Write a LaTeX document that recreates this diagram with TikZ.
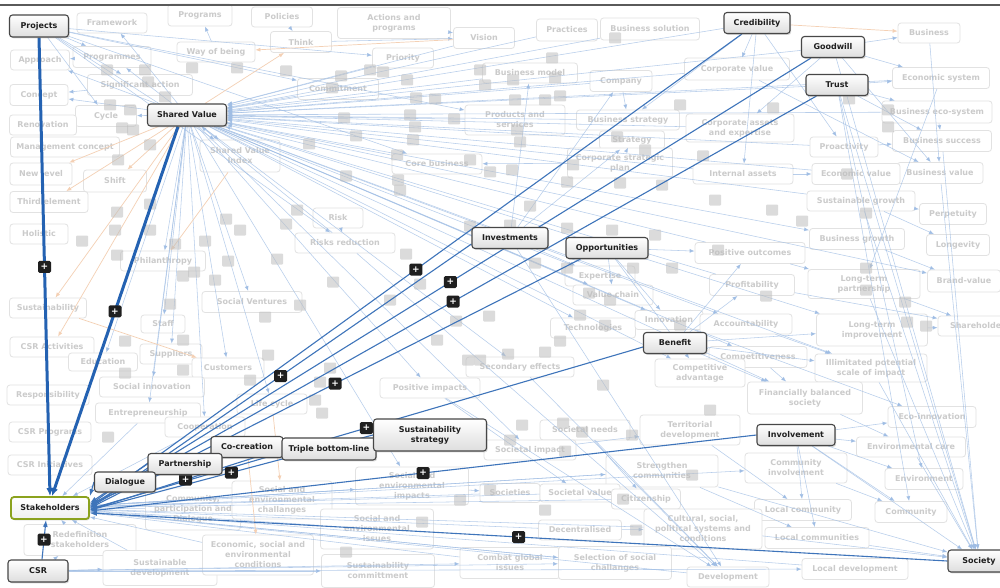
\documentclass[tikz,border=0pt]{standalone}
\usepackage{fontspec}
\setmainfont{DejaVu Sans}
\usetikzlibrary{arrows.meta,shadows}

\pgfdeclarelayer{faintboxes}
\pgfdeclarelayer{faintlinks}
\pgfdeclarelayer{links}
\pgfsetlayers{faintboxes,faintlinks,links,main}

\definecolor{linkblue}{HTML}{3E74BA}
\definecolor{deepblue}{HTML}{2462B2}
\definecolor{paleblue}{HTML}{9FBDE4}
\definecolor{paleorange}{HTML}{F4D0B4}
\definecolor{fadetext}{HTML}{CBCBCB}
\definecolor{fadeedge}{HTML}{E2E2E2}
\definecolor{boxedge}{HTML}{474747}
\definecolor{keygreen}{HTML}{8BA21E}
\definecolor{framegray}{HTML}{5A5A5A}

\tikzset{
  keybox/.style={draw=boxedge, line width=1.1pt, rounded corners=3pt,
    top color=white, bottom color=black!13, text=black!88,
    font=\bfseries\fontsize{8}{10}\selectfont, align=center,
    inner sep=0pt, minimum height=21pt,
    drop shadow={shadow xshift=1.2pt, shadow yshift=-1.4pt, opacity=.3}},
  focusbox/.style={keybox, draw=keygreen, line width=1.8pt, bottom color=black!6},
  faintbox/.style={draw=fadeedge, line width=.8pt, rounded corners=3pt, fill=white,
    text=fadetext, font=\bfseries\fontsize{8}{10}\selectfont, align=center,
    inner sep=0pt, minimum height=20pt},
  faintkey/.style={fill=black!25, fill opacity=.55, rounded corners=1pt,
    minimum width=12pt, minimum height=11pt, inner sep=0pt},
  plusmark/.style={fill=black!88, rounded corners=1.5pt, text=white,
    font=\bfseries\fontsize{9}{9}\selectfont, minimum width=13pt,
    minimum height=12pt, inner sep=0pt},
  faintlink/.style={draw=paleblue, line width=.55pt, draw opacity=.75,
    -{Latex[length=5pt,width=4pt]}},
  faintorange/.style={draw=paleorange, line width=.7pt,
    -{Latex[length=5pt,width=4pt]}},
  fglink/.style={draw=linkblue, line width=1.1pt, -{Latex[length=7pt,width=5pt]}},
  heavylink/.style={draw=deepblue, line width=3pt, -{Latex[length=8pt,width=7pt]}},
}

\newcommand\faintnode[5]{\node[faintbox,minimum width=#3pt,minimum height=#4pt] (#1) at (#2) {#5};}

\begin{document}
\begin{tikzpicture}[x=1pt,y=-1pt]
\useasboundingbox (0,0) rectangle (1000,588);
\begin{pgfonlayer}{faintboxes}
  \fill[white] (0,0) rectangle (1000,588);
\end{pgfonlayer}

% ---------- highlighted concepts ----------
\node[keybox, minimum width=59pt, minimum height=22pt] (proj) at (39,26) {Projects};
\node[keybox, minimum width=79pt, minimum height=22pt] (sv) at (187,115) {Shared Value};
\node[keybox, minimum width=66pt] (cred) at (757,23) {Credibility};
\node[keybox, minimum width=63pt] (good) at (833,47) {Goodwill};
\node[keybox, minimum width=62pt] (trust) at (837,85) {Trust};
\node[keybox, minimum width=76pt] (invest) at (510,238) {Investments};
\node[keybox, minimum width=82pt] (opp) at (607,248) {Opportunities};
\node[keybox, minimum width=63pt] (ben) at (675,343) {Benefit};
\node[keybox, minimum width=78pt] (involve) at (796,435) {Involvement};
\node[keybox, minimum width=72pt] (cocr) at (247,447) {Co-creation};
\node[keybox, minimum width=94pt, minimum height=22pt] (tbl) at (329,449) {Triple bottom-line};
\node[keybox, minimum width=113pt, minimum height=32pt] (sstrat) at (430,435) {Sustainability\\strategy};
\node[keybox, minimum width=74pt] (part) at (185,464) {Partnership};
\node[keybox, minimum width=61pt, minimum height=20pt] (dia) at (125,482) {Dialogue};
\node[focusbox, minimum width=78pt, minimum height=22pt] (stk) at (50,508) {Stakeholders};
\node[keybox, minimum width=60pt, minimum height=22pt] (csr) at (38,571) {CSR};
\node[keybox, minimum width=62pt, minimum height=22pt] (soc) at (979,561) {Society};

% frame line along the top edge
\draw[framegray, line width=1.6pt] (0,5) -- (1000,5);

% ---------- faded concepts ----------
\begin{pgfonlayer}{faintboxes}
\faintnode{framework}{112,23}{70}{20}{Framework}
\faintnode{programs}{200,15}{64}{22}{Programs}
\faintnode{policies}{282,17}{61}{20}{Policies}
\faintnode{actions}{394,23}{113}{31}{Actions and\\programs}
\faintnode{think}{301,42}{61}{21}{Think}
\faintnode{wayofbeing}{216,52}{78}{20}{Way of being}
\faintnode{programmes}{112,57}{78}{21}{Programmes}
\faintnode{approach}{40,60}{59}{20}{Approach}
\faintnode{sigaction}{140,85}{105}{21}{Significant action}
\faintnode{concept}{39,95}{58}{21}{Concept}
\faintnode{cycle}{106,116}{61}{21}{Cycle}
\faintnode{renovation}{43,125}{67}{20}{Renovation}
\faintnode{mgmt}{65,147}{109}{20}{Management concept}
\faintnode{newlevel}{41,174}{62}{22}{New level}
\faintnode{shift}{115,181}{63}{22}{Shift}
\faintnode{svindex}{240,156}{80}{32}{Shared Value\\Index}
\faintnode{third}{49,202}{78}{21}{Third element}
\faintnode{holistic}{39,234}{58}{20}{Holistic}
\faintnode{philanthropy}{163,261}{85}{20}{Philanthropy}
\faintnode{socventures}{252,302}{100}{21}{Social Ventures}
\faintnode{sustfade}{48,308}{77}{20}{Sustainability}
\faintnode{staff}{163,324}{44}{18}{Staff}
\faintnode{csract}{52,347}{84}{20}{CSR Activities}
\faintnode{suppliers}{171,354}{62}{20}{Suppliers}
\faintnode{education}{103,362}{69}{18}{Education}
\faintnode{customers}{228,368}{72}{20}{Customers}
\faintnode{socinnov}{152,387}{105}{20}{Social innovation}
\faintnode{resp}{48,395}{82}{20}{Responsibility}
\faintnode{lifecycle}{272,404}{70}{20}{Life cycle}
\faintnode{entre}{148,413}{105}{20}{Entrepreneurship}
\faintnode{coop}{205,427}{80}{20}{Cooperation}
\faintnode{csrprog}{50,432}{82}{20}{CSR Programs}
\faintnode{csrinit}{50,465}{84}{20}{CSR Initiatives}
\faintnode{commpart}{193,509}{95}{42}{Community,\\participation and\\Dialogue}
\faintnode{redef}{80,540}{112}{31}{Redefinition\\stakeholders}
\faintnode{sustdev}{160,568}{114}{35}{Sustainable\\development}
\faintnode{esconditions}{258,555}{111}{40}{Economic, social and\\environmental\\conditions}
\faintnode{sechall}{282,500}{100}{38}{Social and\\environmental\\challanges}
\faintnode{seimpacts}{412,486}{113}{38}{Social and\\environmental\\impacts}
\faintnode{seissues}{377,529}{113}{40}{Social and\\environmental\\issues}
\faintnode{sustcommit}{378,571}{113}{33}{Sustainability\\committment}
\faintnode{priority}{403,58}{61}{20}{Priority}
\faintnode{commitment}{338,89}{81}{21}{Commitment}
\faintnode{vision}{484,38}{61}{21}{Vision}
\faintnode{practices}{567,30}{61}{22}{Practices}
\faintnode{bizsol}{650,29}{99}{22}{Business solution}
\faintnode{bizmodel}{530,73}{95}{20}{Business model}
\faintnode{company}{621,81}{62}{21}{Company}
\faintnode{products}{515,120}{100}{30}{Products and\\services}
\faintnode{bizstrat}{628,120}{103}{20}{Business strategy}
\faintnode{strategy}{632,140}{65}{18}{Strategy}
\faintnode{corpstrat}{620,163}{105}{30}{Corporate strategic\\plan}
\faintnode{corebiz}{437,164}{90}{20}{Core business}
\faintnode{risk}{338,218}{50}{20}{Risk}
\faintnode{riskred}{345,243}{100}{20}{Risks reduction}
\faintnode{corpvalue}{737,69}{105}{22}{Corporate value}
\faintnode{corpassets}{740,128}{108}{28}{Corporate assets\\and expertise}
\faintnode{intassets}{743,174}{100}{20}{Internal assets}
\faintnode{business}{929,33}{62}{20}{Business}
\faintnode{econsys}{941,78}{97}{21}{Economic system}
\faintnode{bizeco}{937,112}{110}{22}{Business eco-system}
\faintnode{bizsuccess}{942,141}{99}{21}{Business success}
\faintnode{bizvalue}{940,173}{86}{21}{Business value}
\faintnode{proactivity}{844,147}{68}{20}{Proactivity}
\faintnode{econvalue}{856,174}{88}{21}{Economic value}
\faintnode{sustgrowth}{861,201}{108}{20}{Sustainable growth}
\faintnode{perpetuity}{953,214}{67}{21}{Perpetuity}
\faintnode{bizgrowth}{857,239}{95}{21}{Business growth}
\faintnode{longevity}{958,245}{63}{21}{Longevity}
\faintnode{posout}{750,253}{110}{21}{Positive outcomes}
\faintnode{ltpartner}{864,284}{112}{29}{Long-term\\partnership}
\faintnode{brand}{964,281}{73}{22}{Brand-value}
\faintnode{profit}{752,285}{85}{21}{Profitability}
\faintnode{expertise}{600,276}{70}{20}{Expertise}
\faintnode{valuechain}{613,295}{80}{20}{Value chain}
\faintnode{technology}{593,328}{85}{20}{Technologies}
\faintnode{innovation}{669,320}{68}{19}{Innovation}
\faintnode{account}{746,324}{92}{20}{Accountability}
\faintnode{ltimprove}{872,330}{111}{32}{Long-term\\improvement}
\faintnode{shareholders}{980,326}{84}{20}{Shareholders}
\faintnode{compet}{758,357}{98}{21}{Competitiveness}
\faintnode{compadv}{700,373}{90}{28}{Competitive\\advantage}
\faintnode{illim}{871,368}{112}{28}{Illimitated potential\\scale of impact}
\faintnode{secondary}{520,367}{108}{20}{Secondary effects}
\faintnode{posimpacts}{430,388}{100}{20}{Positive impacts}
\faintnode{finbal}{805,398}{115}{32}{Financially balanced\\society}
\faintnode{ecoinnov}{932,417}{88}{21}{Eco-innovation}
\faintnode{territorial}{690,430}{100}{30}{Territorial\\development}
\faintnode{societalneeds}{585,430}{90}{20}{Societal needs}
\faintnode{societalimpact}{530,450}{92}{20}{Societal impact}
\faintnode{envcare}{911,447}{109}{20}{Environmental care}
\faintnode{strengthen}{662,471}{112}{32}{Strengthen\\communities}
\faintnode{commInv}{796,468}{102}{30}{Community\\involvement}
\faintnode{environment}{924,479}{78}{21}{Environment}
\faintnode{societies}{510,493}{60}{19}{Societies}
\faintnode{societalvalue}{580,493}{80}{18}{Societal value}
\faintnode{citizenship}{646,499}{69}{20}{Citizenship}
\faintnode{localcommunity}{803,510}{97}{21}{Local community}
\faintnode{community}{911,512}{72}{21}{Community}
\faintnode{decentral}{580,530}{83}{20}{Decentralised}
\faintnode{cultural}{703,529}{118}{40}{Cultural, social,\\political systems and\\conditions}
\faintnode{localcommunities}{817,538}{104}{21}{Local communities}
\faintnode{combat}{510,563}{100}{31}{Combat global\\issues}
\faintnode{selection}{615,563}{113}{33}{Selection of social\\challanges}
\faintnode{localdev}{855,569}{106}{21}{Local development}
\faintnode{development}{728,577}{82}{20}{Development}
\end{pgfonlayer}

% ---------- faded links ----------
\begin{pgfonlayer}{faintlinks}
\foreach \a/\b in {vision/sv, company/sv, bizmodel/sv, products/sv, bizstrat/sv,
  corpvalue/sv, corpassets/sv, intassets/sv, proactivity/sv, econvalue/sv,
  sustgrowth/sv, posout/sv, profit/sv, riskred/sv, commitment/sv, priority/sv,
  corebiz/sv, practices/sv, bizsol/sv, strategy/sv, econsys/sv, bizeco/sv,
  cred/sv, good/sv, trust/sv,
  sv/approach, sv/concept, sv/cycle, sv/programmes, sv/framework, sv/svindex,
  sv/philanthropy, sv/socventures, sv/staff, sv/suppliers, sv/customers,
  sv/socinnov, sv/coop, sv/lifecycle, sv/education, sv/entre, sv/expertise,
  sv/valuechain, sv/innovation, sv/account, sv/compet, sv/technology,
  sv/secondary, sv/posimpacts, sv/ltimprove, sv/bizgrowth, sv/compadv,
  sv/seimpacts, sv/societalimpact, sv/illim, sv/finbal, sv/brand,
  proj/programmes, proj/sigaction, proj/cycle, proj/svindex, proj/commitment,
  proj/corebiz, proj/riskred, proj/products, proj/priority,
  cred/corpvalue, cred/intassets, cred/bizstrat, cred/proactivity,
  good/econsys, good/bizvalue, good/business, good/corpassets,
  trust/econsys, trust/bizeco, trust/bizsuccess, trust/community,
  trust/environment, trust/soc, good/soc, business/bizvalue,
  bizeco/bizsuccess, econsys/ltpartner,
  invest/company, invest/bizmodel, invest/strategy, invest/expertise,
  invest/development, opp/innovation, opp/valuechain, opp/posout, opp/compadv,
  ben/compet, ben/account, ben/posout, ben/profit, ben/illim, ben/ltimprove,
  ben/finbal, involve/ecoinnov, involve/envcare, involve/environment,
  involve/community, involve/localcommunity, involve/localcommunities,
  involve/soc, bizvalue/soc, ltpartner/soc, sustgrowth/soc,
  localcommunities/soc, strengthen/soc, cultural/soc, illim/soc, envcare/soc,
  bizsuccess/soc,
  societalvalue/stk, cultural/stk, development/stk, decentral/stk,
  citizenship/stk, strengthen/stk, sechall/stk, seissues/stk,
  esconditions/stk, commpart/stk, redef/stk, sustdev/stk, coop/stk, entre/stk,
  societies/stk, combat/stk, selection/stk, localdev/stk,
  csr/redef, csr/sustdev, csr/sustcommit, csr/combat, csr/selection,
  csr/localdev, riskred/development, posimpacts/development,
  societalneeds/development, secondary/development,
  company/bizstrat, strategy/corpstrat, corpstrat/corebiz,
  corpvalue/bizvalue, intassets/econvalue, proactivity/bizsuccess,
  sustgrowth/perpetuity, sustgrowth/longevity, bizgrowth/brand,
  ltpartner/shareholders, ltimprove/shareholders, posout/ltpartner,
  profit/shareholders, account/illim, compet/finbal, innovation/ecoinnov,
  territorial/localcommunity, strengthen/localcommunities, commInv/community,
  societalimpact/territorial, societalneeds/citizenship, decentral/cultural,
  finbal/envcare, posimpacts/societalvalue, seimpacts/societies, risk/riskred,
  think/vision, actions/vision, wayofbeing/programs, policies/think,
  programmes/approach, sigaction/concept, stk/seimpacts, stk/strengthen,
  stk/selection, stk/commInv}
  \draw[faintlink] (\a) -- (\b);

\foreach \a/\b in {cred/business, vision/wayofbeing, sv/newlevel, sv/third,
  sv/sustfade, sv/think, sv/csract, sv/shift, sustfade/customers,
  lifecycle/sechall, cocr/esconditions, svindex/philanthropy}
  \draw[faintorange] (\a) -- (\b);

\foreach \p [count=\k] in {(107,70),(145,70),(192,68),(237,68),(110,105),
  (148,82),(165,97),(130,110),(122,128),(133,130),(150,145),(118,160),
  (286,71),(341,76),(370,70),(383,72),(332,88),(407,80),(416,98),(435,99),
  (454,119),(410,115),(344,118),(309,144),(356,136),(413,140),(415,127),
  (397,155),(398,180),(346,176),(400,190),(480,70),(485,85),(470,160),
  (490,172),(615,38),(552,58),(555,78),(560,96),(545,100),(513,80),(515,100),
  (517,130),(520,142),(512,170),(680,105),(617,137),(645,150),(573,165),
  (620,183),(567,182),(703,156),(662,185),(773,108),(849,99),(888,110),
  (888,127),(847,174),(117,212),(150,204),(115,230),(150,230),(82,241),
  (117,255),(175,244),(194,272),(183,276),(170,304),(226,219),(240,230),
  (205,241),(228,261),(215,280),(183,370),(125,373),(125,341),(183,340),
  (297,210),(286,224),(277,259),(333,282),(300,305),(265,317),(390,300),
  (406,254),(420,284),(470,226),(478,235),(437,340),(456,321),(468,360),
  (268,355),(330,368),(250,380),(320,382),(489,316),(480,360),(530,206),
  (510,225),(612,230),(567,228),(535,263),(567,268),(589,293),(610,300),
  (605,325),(580,315),(633,268),(655,235),(672,268),(560,341),(545,352),
  (508,354),(715,200),(718,250),(680,325),(772,210),(802,221),(866,213),
  (866,268),(866,290),(905,302),(907,322),(926,326),(766,296),(108,437),
  (315,400),(322,413),(346,552),(422,522),(460,500),(490,490),(510,440),
  (522,425),(563,423),(565,451),(582,432),(632,435),(623,499),(545,510),
  (636,530),(710,410),(692,475),(603,385)}
  \node[faintkey] (fk\k) at \p {};
\end{pgfonlayer}

% ---------- highlighted links into Stakeholders ----------
\begin{pgfonlayer}{links}
\draw[heavylink] (proj.south) -- node[plusmark] (m1) {+} (stk.north);
\draw[heavylink] ([xshift=-9pt]sv.south) -- node[plusmark] (m2) {+} ([xshift=2pt]stk.north);
\draw[fglink] (cred) -- node[plusmark] (m3) {+} ([yshift=3pt]stk.east);
\draw[fglink] ([xshift=10pt]good.south west) -- node[plusmark] (m4) {+} ([yshift=2pt]stk.east);
\draw[fglink] ([xshift=11pt]trust.south west) -- node[plusmark] (m5) {+} ([yshift=1pt]stk.east);
\draw[fglink] ([yshift=-6pt]invest.west) -- node[plusmark] (m6) {+} (stk.east);
\draw[fglink] ([xshift=15pt]opp.south west) -- node[plusmark] (m7) {+} (stk.east);
\draw[fglink] ([yshift=-4pt]ben.west) -- node[plusmark] (m8) {+} ([yshift=-1pt]stk.east);
\draw[fglink] (sstrat.west) -- node[plusmark] (m9) {+} ([yshift=-2pt]stk.east);
\draw[fglink] (tbl.west) -- node[plusmark] (m10) {+} ([yshift=-2pt]stk.east);
\draw[fglink] (involve.west) -- node[plusmark] (m11) {+} ([yshift=-3pt]stk.east);
\draw[fglink] (soc.west) -- node[plusmark] (m12) {+} ([yshift=-5pt]stk.east);
\draw[fglink] ([xshift=4pt]csr.north) -- node[plusmark] (m13) {+} ([xshift=-4pt]stk.south);
\draw[fglink] ([yshift=-6pt]cocr.west) -- ([yshift=4pt]stk.east);
\draw[fglink] (part.west) -- ([yshift=5pt]stk.east);
\draw[fglink] (dia.west) -- (stk.north east);
\end{pgfonlayer}
\end{tikzpicture}
\end{document}
